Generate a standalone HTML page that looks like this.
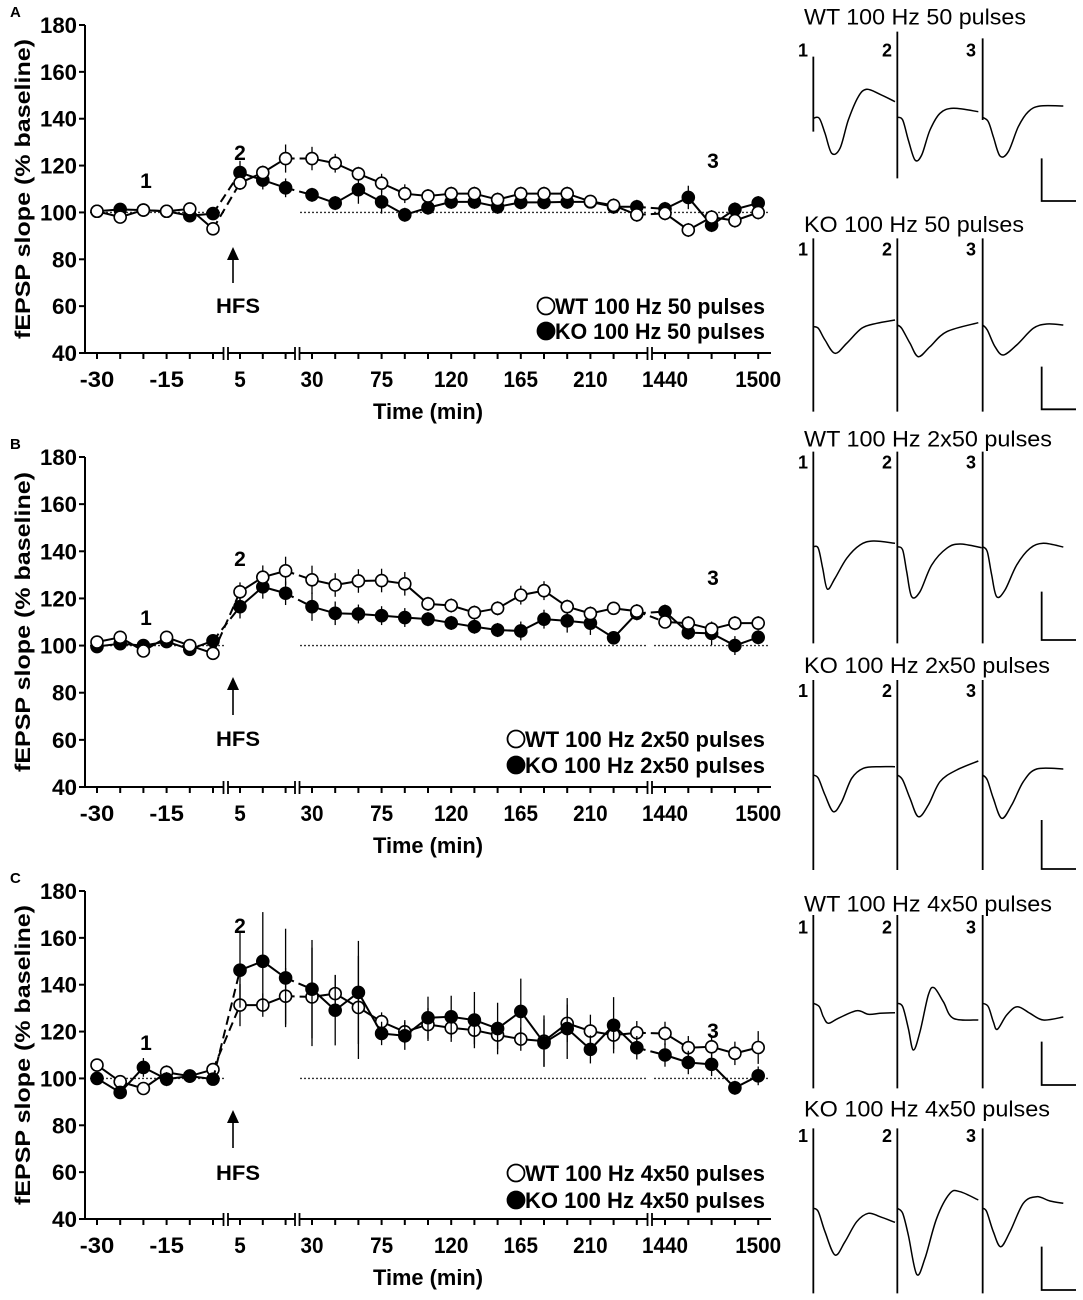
<!DOCTYPE html>
<html><head><meta charset="utf-8">
<style>
html,body{margin:0;padding:0;background:#fff;}
svg{display:block;}
text{font-family:"Liberation Sans",Arial,sans-serif;}
.t{font-weight:bold;}
.tr{font-family:"Liberation Sans",Arial,sans-serif;}
</style></head>
<body>
<svg id="fig" width="1083" height="1300" viewBox="0 0 1083 1300" xmlns="http://www.w3.org/2000/svg"></svg>
<script>
// ---------- data ----------
const times = [-30,-25,-20,-15,-10,-5,5,10,15,30,45,60,75,90,105,120,135,150,165,180,195,210,225,240,1440,1455,1470,1485,1500];
const xTickLabels = [-30,-15,5,30,75,120,165,210,1440,1500];
const yTicks = [40,60,80,100,120,140,160,180];

const wtA = [100.5,98,101,100.5,101.5,93, 112.6,117,123, 123,121,116.5,112.5,108,107,108,108,105.5,108,108,108,104.7,103,99, 99.6,92.5,98,96.5,100];
const koA = [100.5,101.3,101,100.5,98.6,99.5, 117,113.8,110.5, 107.5,104,109.7,104.5,99,102,104.5,104.5,102.4,104.3,104.3,104.5,104.5,102.4,102.4, 101.5,106.4,94.6,101.3,104];
const wtAerr = [1,2,1,1,2,2, 3,3,6, 5,4,3,4,4,3,3,3,3,3,3,3,2,3,3, 3,3,3,3,3];
const koAerr = [1,1,1,1,2,2, 5,4,4, 3,3,6,5,3,3,3,3,3,3,3,3,2,3,3, 3,5,3,3,3];

const wtB = [101.5,103.5,97.7,103.5,100,96.7, 122.8,129,131.7, 127.9,125.7,127.4,127.6,126.2,117.7,117,114,115.8,121.4,123.3,116.5,113.6,115.8,114.6, 110,109.5,107,109.5,109.5];
const koB = [99.6,100.8,100,101.7,98.4,102, 116.5,124.9,122.2, 116.5,113.7,113.4,112.7,111.9,111.2,109.6,108,106.6,106.2,111.2,110.5,109.5,103.3,113.7, 114.4,105.5,105.2,100,103.5];
const wtBerr = [1,1,2,1,1,2, 4,5,6, 6,5,5,5,5,3,3,3,3,4,4,3,3,2,3, 2,3,3,3,3];
const koBerr = [1,1,1,1,1,2, 5,5,5, 6,5,4,4,4,3,3,3,3,4,4,5,5,2,3, 3,3,5,4,3];

const wtC = [105.7,98.6,95.7,102.6,101,103.8, 131.3,131.3,135.1, 134.8,136.2,130.3,124.2,119.9,123,121.6,120.6,118.5,116.8,115.9,123.5,120.2,118.5,119.5, 119.2,113.1,113.5,110.7,113.2];
const koC = [100,94,104.7,99.7,101,99.7, 146.2,150,142.9, 138.1,129.1,136.7,119.2,118.2,125.9,126.3,124.9,121.3,128.6,115.2,121.3,112.4,122.7,113.1, 110,106.8,106,96,101.1];
const wtCerr = [2,2,2,3,2,2, 9,5,12, 21,8,22,4,5,7,6,6,6,5,11,8,7,6,5, 5,5,5,5,7];
const koCerr = [2,2,4,3,2,2, 16,21,21, 21,15,22,5,6,9,9,12,11,14,10,13,6,12,5, 5,5,5,3,4];

// ---------- helpers ----------
const NS = "http://www.w3.org/2000/svg";
const svg = document.getElementById('fig');
function mk(tag, attrs, parent){
  const e = document.createElementNS(NS, tag);
  for (const k in attrs) e.setAttribute(k, attrs[k]);
  (parent||svg).appendChild(e);
  return e;
}
function xScale(t){
  if (t < 0) return 97 + (t + 30) / 5 * 23.2;
  if (t < 20) return 240 + (t - 5) / 5 * 22.8;
  if (t < 1000) return 312 + (t - 30) / 15 * 23.2;
  return 665 + (t - 1440) / 15 * 23.3;
}
function segOf(t){ return t<0?0:(t<20?1:(t<1000?2:3)); }

function drawPanel(p){
  const g = mk('g', {});
  
  
  const yS = v => p.bottom - (v - 40) / 140 * (p.bottom - p.top);

  const pl = mk('text', {x:10, y:p.top-8, 'font-size':15, class:'t tr'}, g);
  pl.textContent = p.letter;
  
  

  [[90,224],[300,648],[654,770]].forEach(r=>{
    const l = mk('line', {x1:r[0], x2:r[1], y1:yS(100), y2:yS(100), stroke:'#333', 'stroke-width':1.3, 'stroke-dasharray':'2,2'}, g);
    
    
  });

  const ya = mk('line', {x1:85, x2:85, y1:p.top, y2:p.bottom, stroke:'#000', 'stroke-width':2}, g);
  
  
  yTicks.forEach(v=>{
    mk('line', {x1:79, x2:85, y1:yS(v), y2:yS(v), stroke:'#000', 'stroke-width':2}, g);
    const t = mk('text', {x:77, y:yS(v)+8, 'font-size':22, 'text-anchor':'end', class:'t', textLength:37, lengthAdjust:'spacingAndGlyphs'}, g);
    t.textContent = v;
    if (v < 100) t.setAttribute('textLength', 25);
    
    
  });
  const yt = mk('text', {x:0, y:0, 'font-size':21, 'text-anchor':'middle', class:'t tr', textLength:300, lengthAdjust:'spacingAndGlyphs',
    transform:'translate(30,' + ((p.top+p.bottom)/2) + ') rotate(-90)'}, g);
  yt.textContent = 'fEPSP slope (% baseline)';
  
  

  const xa = mk('line', {x1:84, x2:771, y1:p.bottom, y2:p.bottom, stroke:'#000', 'stroke-width':2}, g);
  
  
  times.forEach(t=>{
    mk('line', {x1:xScale(t), x2:xScale(t), y1:p.bottom, y2:p.bottom+6, stroke:'#000', 'stroke-width':2}, g);
  });
  [226, 297.5, 650].forEach(bx=>{
    mk('rect', {x:bx-2, y:p.bottom-3, width:4, height:6, fill:'#fff'}, g);
    const b1 = mk('line', {x1:bx-2.5, x2:bx-2.5, y1:p.bottom-6, y2:p.bottom+7, stroke:'#000', 'stroke-width':1.8}, g);
    
    
    mk('line', {x1:bx+2, x2:bx+2, y1:p.bottom-6, y2:p.bottom+7, stroke:'#000', 'stroke-width':1.8}, g);
  });
  xTickLabels.forEach(t=>{
    const tx = mk('text', {x:xScale(t), y:p.bottom+34, 'font-size':22, 'text-anchor':'middle', class:'t'}, g);
    tx.textContent = t;
    const s = String(t);
    tx.setAttribute('textLength', s.length * 11.5);
    tx.setAttribute('lengthAdjust', 'spacingAndGlyphs');
    
    
  });
  const xt = mk('text', {x:428, y:p.bottom+66, 'font-size':22, 'text-anchor':'middle', class:'t', textLength:110, lengthAdjust:'spacingAndGlyphs'}, g);
  xt.textContent = 'Time (min)';
  
  

  p.series.forEach(s=>{
    const sg = mk('g', {}, g);
    
    
    s.vals.forEach((v,i)=>{
      const e = mk('line', {x1:xScale(times[i]), x2:xScale(times[i]), y1:yS(v+s.err[i]), y2:yS(v-s.err[i]), stroke:'#000', 'stroke-width':1.3}, sg);
      
      
    });
    for (let i=0;i<s.vals.length-1;i++){
      const same = segOf(times[i])===segOf(times[i+1]);
      const ln = mk('line', {x1:xScale(times[i]), y1:yS(s.vals[i]), x2:xScale(times[i+1]), y2:yS(s.vals[i+1]),
        stroke:'#000', 'stroke-width':2, 'stroke-dasharray': same ? 'none' : '9,5'}, sg);
      
      
    }
    s.vals.forEach((v,i)=>{
      const c = mk('circle', {cx:xScale(times[i]), cy:yS(v), r:6, fill:s.fill, stroke:'#000', 'stroke-width':1.6}, sg);
      
      
    });
  });

  [['1',146,p.l1],['2',240,p.l2],['3',713,p.l3]].forEach(a=>{
    const t = mk('text', {x:a[1], y:a[2]+8, 'font-size':21, 'text-anchor':'middle', class:'t'}, g);
    t.textContent = a[0];
    
    
  });
  const ar = mk('line', {x1:233, x2:233, y1:p.arrowY0, y2:p.arrowY1+8, stroke:'#000', 'stroke-width':1.6}, g);
  
  
  mk('polygon', {points:(233)+','+(p.arrowY1)+' '+(227)+','+(p.arrowY1+13)+' '+(239)+','+(p.arrowY1+13), fill:'#000'}, g);
  const hf = mk('text', {x:238, y:p.hfsY+8, 'font-size':21, 'text-anchor':'middle', class:'t', textLength:44, lengthAdjust:'spacingAndGlyphs'}, g);
  hf.textContent = 'HFS';
  
  

  p.legend.forEach((lg,i)=>{
    const y = p.legY[i];
    const t = mk('text', {x:765, y:y+8, 'font-size':22, 'text-anchor':'end', class:'t', textLength:p.legW, lengthAdjust:'spacingAndGlyphs'}, g);
    t.textContent = lg[0];
    
    
    const c = mk('circle', {cx:765 - p.legW - 9, cy:y, r:8.5, fill:lg[1], stroke:'#000', 'stroke-width':1.8}, g);
    
    
  });
}

drawPanel({letter:'A', top:25, bottom:353, l1:180, l2:152, l3:160, arrowY0:283, arrowY1:247, hfsY:305,
  legY:[306,331], legW:210, legend:[['WT 100 Hz 50 pulses','#fff'],['KO 100 Hz 50 pulses','#000']],
  series:[{name:'series-ko-a', vals:koA, err:koAerr, fill:'#000'},{name:'series-wt-a', vals:wtA, err:wtAerr, fill:'#fff'}]});
drawPanel({letter:'B', top:457, bottom:787, l1:617, l2:558, l3:577, arrowY0:715, arrowY1:677, hfsY:738,
  legY:[739,765], legW:240, legend:[['WT 100 Hz 2x50 pulses','#fff'],['KO 100 Hz 2x50 pulses','#000']],
  series:[{name:'series-ko-b', vals:koB, err:koBerr, fill:'#000'},{name:'series-wt-b', vals:wtB, err:wtBerr, fill:'#fff'}]});
drawPanel({letter:'C', top:891, bottom:1219, l1:1042, l2:925, l3:1030, arrowY0:1148, arrowY1:1110, hfsY:1172,
  legY:[1173,1200], legW:240, legend:[['WT 100 Hz 4x50 pulses','#fff'],['KO 100 Hz 4x50 pulses','#000']],
  series:[{name:'series-wt-c', vals:wtC, err:wtCerr, fill:'#fff'},{name:'series-ko-c', vals:koC, err:koCerr, fill:'#000'}]});

// ---------- example traces ----------
function smooth(pts){
  let d = 'M' + pts[0][0].toFixed(1) + ',' + pts[0][1].toFixed(1);
  for (let i=0;i<pts.length-1;i++){
    const p0 = pts[i-1]||pts[i], p1 = pts[i], p2 = pts[i+1], p3 = pts[i+2]||p2;
    const c1 = [p1[0]+(p2[0]-p0[0])/6, p1[1]+(p2[1]-p0[1])/6];
    const c2 = [p2[0]-(p3[0]-p1[0])/6, p2[1]-(p3[1]-p1[1])/6];
    d += ' C' + c1.map(v=>v.toFixed(1)).join(',') + ' ' + c2.map(v=>v.toFixed(1)).join(',') + ' ' + p2[0].toFixed(1) + ',' + p2[1].toFixed(1);
  }
  return d;
}
function tracesBlock(cfg){
  const oy = cfg.oy;
  const X = zx => 780 + zx/3, Y = zy => oy + zy/3;
  const g = mk('g', {});
  
  
  const tt = mk('text', {x:804, y:Y(cfg.titleY)+8, 'font-size':22, class:'tr', textLength:cfg.tw, lengthAdjust:'spacingAndGlyphs'}, g);
  tt.textContent = cfg.title;
  
  
  [['1',803],['2',887],['3',971]].forEach(n=>{
    const t = mk('text', {x:n[1], y:Y(cfg.numY)+7, 'font-size':18, 'text-anchor':'middle', class:'t tr'}, g);
    t.textContent = n[0];
    
    
  });
  cfg.art.forEach(a=>{
    const l = mk('line', {x1:X(a[0]), x2:X(a[0]), y1:Y(a[1]), y2:Y(a[2]), stroke:'#000', 'stroke-width':1.8}, g);
    
    
  });
  cfg.traces.forEach(tr=>{
    const p = mk('path', {d:smooth(tr.map(q=>[X(q[0]),Y(q[1])])), fill:'none', stroke:'#000', 'stroke-width':1.5}, g);
    
    
  });
  const sb = mk('path', {d:'M'+X(785)+','+Y(cfg.sb[0])+' L'+X(785)+','+Y(cfg.sb[1])+' L'+X(888)+','+Y(cfg.sb[1]), fill:'none', stroke:'#000', 'stroke-width':1.8}, g);
  
  
}

tracesBlock({name:'traces-wt-a', oy:0, title:'WT 100 Hz 50 pulses', tw:222, titleY:50, numY:148,
  art:[[100,170,395],[352,95,535],[608,115,360]], sb:[475,603],
  traces:[[[100,355],[118,355],[135,400],[155,460],[180,445],[205,360],[235,290],[260,268],[300,283],[345,305]],
          [[352,352],[368,360],[385,420],[405,480],[425,465],[450,390],[480,340],[520,325],[595,335]],
          [[608,352],[625,365],[640,410],[660,468],[685,455],[715,380],[745,335],[780,318],[850,318]]]});
tracesBlock({name:'traces-ko-a', oy:0, title:'KO 100 Hz 50 pulses', tw:220, titleY:672, numY:745,
  art:[[100,715,1235],[352,715,1235],[608,715,1235]], sb:[1100,1228],
  traces:[[[100,980],[115,985],[135,1020],[165,1060],[200,1030],[245,985],[290,970],[345,960]],
          [[352,975],[365,985],[390,1030],[415,1070],[450,1040],[500,995],[595,968]],
          [[608,975],[622,990],[645,1040],[670,1065],[710,1035],[760,985],[800,972],[850,975]]]});
tracesBlock({name:'traces-wt-b', oy:425, title:'WT 100 Hz 2x50 pulses', tw:248, titleY:40, numY:110,
  art:[[100,80,655],[352,80,655],[608,80,655]], sb:[500,645],
  traces:[[[100,365],[115,370],[128,430],[142,492],[165,460],[200,400],[240,360],[280,348],[345,355]],
          [[352,365],[368,375],[380,440],[395,515],[420,500],[455,420],[500,370],[540,357],[605,368]],
          [[608,365],[622,380],[635,450],[650,515],[675,495],[710,420],[750,370],[790,355],[850,366]]]});
tracesBlock({name:'traces-ko-b', oy:425, title:'KO 100 Hz 2x50 pulses', tw:246, titleY:720, numY:795,
  art:[[100,765,1335],[352,765,1335],[608,765,1335]], sb:[1185,1332],
  traces:[[[100,1050],[115,1060],[135,1110],[160,1160],[185,1130],[215,1060],[250,1030],[300,1025],[345,1025]],
          [[352,1050],[368,1065],[390,1120],[415,1175],[445,1140],[480,1070],[530,1035],[595,1008]],
          [[608,1050],[622,1065],[640,1120],[665,1180],[695,1140],[730,1070],[770,1032],[850,1032]]]});
tracesBlock({name:'traces-wt-c', oy:865, title:'WT 100 Hz 4x50 pulses', tw:248, titleY:115, numY:185,
  art:[[100,150,670],[352,150,670],[608,150,670]], sb:[530,660],
  traces:[[[100,415],[118,425],[130,455],[145,475],[175,460],[230,437],[265,448],[300,445],[345,443]],
          [[352,415],[368,425],[385,490],[400,555],[420,500],[445,390],[462,368],[490,410],[520,460],[595,465]],
          [[608,415],[625,425],[640,470],[652,493],[680,450],[712,425],[750,445],[790,465],[850,456]]]});
tracesBlock({name:'traces-ko-c', oy:865, title:'KO 100 Hz 4x50 pulses', tw:246, titleY:730, numY:810,
  art:[[100,790,1285],[352,790,1285],[608,790,1285]], sb:[1145,1275],
  traces:[[[100,1030],[115,1040],[135,1100],[165,1170],[195,1130],[230,1070],[265,1045],[300,1055],[345,1072]],
          [[352,1030],[368,1045],[385,1110],[410,1228],[435,1180],[470,1060],[510,985],[540,980],[595,1005]],
          [[608,1030],[620,1040],[640,1100],[662,1145],[690,1100],[730,1015],[770,995],[810,1008],[850,1015]]]});
</script>
</body></html>
